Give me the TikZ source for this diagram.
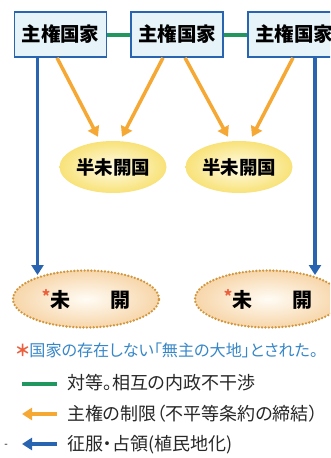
\documentclass[tikz,border=0pt]{standalone}
\usepackage{fontspec}
\setmainfont{Noto Sans CJK JP}
\newfontfamily\propfont{Noto Sans CJK JP}[RawFeature=+palt]
\usetikzlibrary{arrows.meta,shapes.geometric}
\definecolor{cgreen}{RGB}{34,150,95}
\definecolor{corange}{RGB}{246,168,52}
\definecolor{cblue}{RGB}{40,100,175}
\definecolor{boxfill}{RGB}{230,243,248}
\definecolor{hyellow}{RGB}{248,226,120}
\definecolor{hinner}{RGB}{255,252,232}
\definecolor{mpeach}{RGB}{247,214,170}
\definecolor{minner}{RGB}{255,252,245}
\definecolor{mdot}{RGB}{210,150,60}
\definecolor{notecol}{RGB}{55,135,200}
\definecolor{starcol}{RGB}{235,95,60}
\definecolor{legtext}{RGB}{40,40,40}
\begin{document}
\begin{tikzpicture}[x=1pt,y=-1pt,
  sbox/.style={draw=cblue, line width=1.6pt, fill=boxfill, minimum width=92pt,
    minimum height=45pt, inner sep=0pt, font=\fontsize{19.5}{20}\selectfont\bfseries},
  hell/.style={ellipse, minimum width=107pt, minimum height=52pt, inner sep=0pt,
    inner color=hinner, outer color=hyellow, font=\fontsize{18.5}{19}\selectfont\bfseries},
  mell/.style={ellipse, minimum width=146pt, minimum height=57pt, inner sep=0pt,
    inner color=minner, outer color=mpeach, draw=mdot, line width=2.6pt,
    dash pattern=on 0pt off 3.4pt, line cap=round, font=\fontsize{20}{20}\selectfont\bfseries},
  gline/.style={cgreen, line width=4pt},
  oarrow/.style={corange, line width=3.5pt, -{Triangle[width=12pt,length=10pt]}},
  barrow/.style={cblue, line width=3.5pt, -{Triangle[width=12pt,length=10pt]}},
  legtxt/.style={anchor=west, text=legtext, inner sep=0pt, font=\propfont\fontsize{18}{18}\selectfont}
]
\useasboundingbox (0,0) rectangle (330,458);
\clip (0,0) rectangle (330,458);
\fill[white] (0,0) rectangle (330,458);

% sovereign states
\node[sbox] (s1) at (60.5,34.5) {主権国家};
\node[sbox] (s2) at (177,34.5) {主権国家};
\node[sbox] (s3) at (294,34.5) {主権国家};
\draw[gline] (s1) -- (s2);
\draw[gline] (s2) -- (s3);

% semi-civilized
\node[hell] (h1) at (113,167) {半未開国};
\node[hell] (h2) at (239,167) {半未開国};

% uncivilized
\node[mell] (m1) at (86,299) {\raisebox{5pt}{\fontsize{16}{16}\selectfont\textcolor{starcol}{*}}未　　開};
\node[mell] (m2) at (268,299) {\raisebox{5pt}{\fontsize{16}{16}\selectfont\textcolor{starcol}{*}}未　　開};

% orange arrows
\draw[oarrow] ([xshift=-3.5pt]s1.south) -- ([xshift=-15pt,yshift=4pt]h1.north);
\draw[oarrow] ([xshift=-14pt]s2.south) -- ([xshift=9pt,yshift=4pt]h1.north);
\draw[oarrow] ([xshift=8pt]s2.south) -- ([xshift=-11pt,yshift=4pt]h2.north);
\draw[oarrow] ([xshift=-1pt]s3.south) -- ([xshift=13pt,yshift=4pt]h2.north);

% blue arrows
\coordinate (t1) at (37.5,275);
\coordinate (t2) at (315,275);
\draw[barrow] ([xshift=-23pt]s1.south) -- (t1);
\draw[barrow] ([xshift=21pt]s3.south) -- (t2);

% note
\node[anchor=west, inner sep=0pt, text=notecol, font=\propfont\fontsize{16.1}{17}\selectfont] (note) at (16,350)
  {{\bfseries\textcolor{starcol}{＊}}国家の存在しない「無主の大地」とされた。};

% legend
\coordinate (g1) at (22,384);
\coordinate (g2) at (57,384);
\draw[gline] (g1) -- (g2);
\node[legtxt] (lg) at (67,383) {対等。相互の内政不干渉};
\coordinate (o1) at (57,414);
\coordinate (o2) at (22,414);
\draw[oarrow] (o1) -- (o2);
\node[legtxt] (lo) at (67,414) {主権の制限（不平等条約の締結）};
\coordinate (b1) at (57,444);
\coordinate (b2) at (22,444);
\draw[barrow] (b1) -- (b2);
\node[legtxt] (lb) at (67,445) {征服・占領(植民地化)};
\node[inner sep=0pt, font=\fontsize{10}{10}\selectfont] (dash) at (6,446) {-};
\end{tikzpicture}
\end{document}
